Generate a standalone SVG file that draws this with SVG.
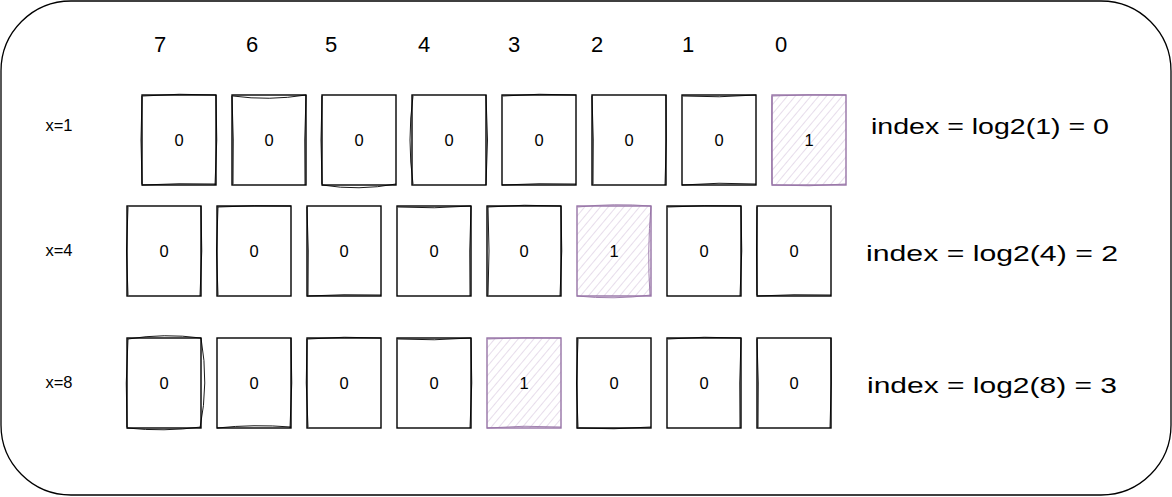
<svg xmlns="http://www.w3.org/2000/svg" width="1172" height="497" viewBox="0 0 1172 497">
<defs>
<pattern id="hatch" patternUnits="userSpaceOnUse" width="6" height="6" patternTransform="rotate(40)">
<rect width="6" height="6" fill="#ffffff"/>
<line x1="0" y1="0" x2="0" y2="6" stroke="#e1d5e7" stroke-width="1.6"/>
</pattern>
</defs>
<style>
.frame{fill:#ffffff;stroke:#000000;stroke-width:1.3}
.box{fill:#ffffff;stroke:#000000;stroke-width:1.4}
.box2{fill:none;stroke:#000000;stroke-width:0.9}
.hl{fill:url(#hatch);stroke:#9673a6;stroke-width:1.4}
.hl2{fill:none;stroke:#9673a6;stroke-width:0.9}
.v{font-family:"Liberation Sans",Arial,sans-serif;font-size:16.5px;text-anchor:middle;dominant-baseline:central;fill:#000}
.lbl{font-family:"Liberation Sans",Arial,sans-serif;font-size:16.5px;text-anchor:middle;dominant-baseline:central;fill:#000}
.hd{font-family:"Liberation Sans",Arial,sans-serif;font-size:22px;text-anchor:middle;dominant-baseline:central;fill:#000}
.idx{font-family:"Liberation Sans",Arial,sans-serif;font-size:22px;dominant-baseline:central;fill:#000}
</style>
<rect id="frame" class="frame" x="1" y="1" width="1170" height="494" rx="70" ry="70"/>
<g id="headers">
<text class="hd" x="160" y="44">7</text>
<text class="hd" x="252" y="44">6</text>
<text class="hd" x="331" y="44">5</text>
<text class="hd" x="424" y="44">4</text>
<text class="hd" x="514" y="44">3</text>
<text class="hd" x="597" y="44">2</text>
<text class="hd" x="688" y="44">1</text>
<text class="hd" x="781" y="44">0</text>
</g>
<g id="row-labels">
<text class="lbl" x="59" y="125">x=1</text>
<text class="lbl" x="59" y="250">x=4</text>
<text class="lbl" x="59" y="382">x=8</text>
</g>
<g id="row1">
<g id="r1b7" transform="translate(142,95)"><rect class="box" width="74" height="90"/><path class="box2" d="M1,1 Q37,-2 74,0 M0,1 Q-2,45 0,89 M74,0 Q76,45 73,90 M0,90 Q37,88 74,89"/><text class="v" x="37" y="45">0</text></g>
<g id="r1b6" transform="translate(232,95)"><rect class="box" width="74" height="90"/><path class="box2" d="M1,1 Q37,6 74,0 M0,1 Q2,45 1,89 M74,0 Q72,45 73,90"/><text class="v" x="37" y="45">0</text></g>
<g id="r1b5" transform="translate(322,95)"><rect class="box" width="74" height="90"/><path class="box2" d="M0,1 Q-2,45 0,89 M0,90 Q37,96 74,89"/><text class="v" x="37" y="45">0</text></g>
<g id="r1b4" transform="translate(412,95)"><rect class="box" width="74" height="90"/><path class="box2" d="M1,1 Q-5,45 1,89 M74,0 Q77,45 74,90"/><text class="v" x="37" y="45">0</text></g>
<g id="r1b3" transform="translate(502,95)"><rect class="box" width="74" height="90"/><path class="box2" d="M1,1 Q37,-2 74,0 M0,90 Q37,88 74,89"/><text class="v" x="37" y="45">0</text></g>
<g id="r1b2" transform="translate(592,95)"><rect class="box" width="74" height="90"/><path class="box2" d="M0,1 Q2,45 1,89 M74,0 Q75,45 73,90"/><text class="v" x="37" y="45">0</text></g>
<g id="r1b1" transform="translate(682,95)"><rect class="box" width="74" height="90"/><path class="box2" d="M1,1 Q37,3 74,0 M0,90 Q37,87 74,89"/><text class="v" x="37" y="45">0</text></g>
<g id="r1b0" transform="translate(772,95)"><rect class="hl" width="74" height="90"/><path class="hl2" d="M1,1 Q37,-1 74,0 M0,1 Q-1,45 0,89 M0,90 Q37,92 74,89"/><text class="v" x="37" y="45">1</text></g>
</g>
<g id="row2">
<g id="r2b7" transform="translate(127,206)"><rect class="box" width="74" height="90"/><path class="box2" d="M1,1 Q-2,45 1,89 M74,0 Q76,45 73,90"/><text class="v" x="37" y="45">0</text></g>
<g id="r2b6" transform="translate(217,206)"><rect class="box" width="74" height="90"/><path class="box2" d="M1,1 Q-2,45 1,89 M1,1 Q37,-1 74,0"/><text class="v" x="37" y="45">0</text></g>
<g id="r2b5" transform="translate(307,206)"><rect class="box" width="74" height="90"/><path class="box2" d="M0,1 Q2,45 1,89 M0,90 Q37,88 74,89"/><text class="v" x="37" y="45">0</text></g>
<g id="r2b4" transform="translate(397,206)"><rect class="box" width="74" height="90"/><path class="box2" d="M1,1 Q37,3 74,0 M74,0 Q72,45 73,90"/><text class="v" x="37" y="45">0</text></g>
<g id="r2b3" transform="translate(487,206)"><rect class="box" width="74" height="90"/><path class="box2" d="M1,1 Q37,-2 74,0 M1,1 Q3,45 1,89 M74,0 Q76,45 73,90"/><text class="v" x="37" y="45">0</text></g>
<g id="r2b2" transform="translate(577,206)"><rect class="hl" width="74" height="90"/><path class="hl2" d="M1,1 Q37,-3 74,0 M74,0 Q70,45 73,90 M0,90 Q37,94 74,89"/><text class="v" x="37" y="45">1</text></g>
<g id="r2b1" transform="translate(667,206)"><rect class="box" width="74" height="90"/><path class="box2" d="M1,1 Q37,-1 74,0 M74,0 Q76,45 73,90"/><text class="v" x="37" y="45">0</text></g>
<g id="r2b0" transform="translate(757,206)"><rect class="box" width="74" height="90"/><path class="box2" d="M0,1 Q-1,45 0,89 M0,90 Q37,88 74,89"/><text class="v" x="37" y="45">0</text></g>
</g>
<g id="row3">
<g id="r3b7" transform="translate(127,338)"><rect class="box" width="74" height="90"/><path class="box2" d="M1,1 Q37,-5 74,0 M74,0 Q82,45 73,90 M0,90 Q37,94 74,89 M1,1 Q-2,45 0,89"/><text class="v" x="37" y="45">0</text></g>
<g id="r3b6" transform="translate(217,338)"><rect class="box" width="74" height="90"/><path class="box2" d="M0,90 Q37,86 74,89 M74,0 Q76,45 73,90"/><text class="v" x="37" y="45">0</text></g>
<g id="r3b5" transform="translate(307,338)"><rect class="box" width="74" height="90"/><path class="box2" d="M1,1 Q37,-2 74,0 M0,1 Q-2,45 1,89"/><text class="v" x="37" y="45">0</text></g>
<g id="r3b4" transform="translate(397,338)"><rect class="box" width="74" height="90"/><path class="box2" d="M1,1 Q37,3 74,0 M74,0 Q76,45 73,90"/><text class="v" x="37" y="45">0</text></g>
<g id="r3b3" transform="translate(487,338)"><rect class="hl" width="74" height="90"/><path class="hl2" d="M1,1 Q37,-1 74,0 M0,90 Q37,87 74,89"/><text class="v" x="37" y="45">1</text></g>
<g id="r3b2" transform="translate(577,338)"><rect class="box" width="74" height="90"/><path class="box2" d="M1,1 Q-2,45 1,89 M0,90 Q37,92 74,89"/><text class="v" x="37" y="45">0</text></g>
<g id="r3b1" transform="translate(667,338)"><rect class="box" width="74" height="90"/><path class="box2" d="M1,1 Q37,-2 74,0 M74,0 Q72,45 73,90"/><text class="v" x="37" y="45">0</text></g>
<g id="r3b0" transform="translate(757,338)"><rect class="box" width="74" height="90"/><path class="box2" d="M0,1 Q2,45 1,89 M74,0 Q75,45 73,90"/><text class="v" x="37" y="45">0</text></g>
</g>
<g id="index-labels">
<text class="idx" x="871" y="126" textLength="238" lengthAdjust="spacingAndGlyphs">index = log2(1) = 0</text>
<text class="idx" x="866" y="253" textLength="252" lengthAdjust="spacingAndGlyphs">index = log2(4) = 2</text>
<text class="idx" x="867" y="385" textLength="250" lengthAdjust="spacingAndGlyphs">index = log2(8) = 3</text>
</g>
</svg>
